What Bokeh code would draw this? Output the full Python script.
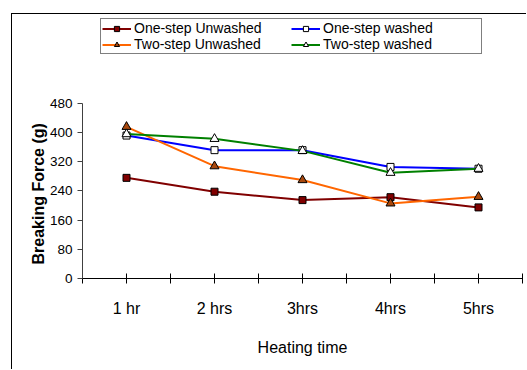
from bokeh.plotting import figure
from bokeh.models import (Legend, LegendItem, FixedTicker, PolyAnnotation, Range1d, Title)
from bokeh.embed import file_html
from bokeh.resources import INLINE

# ---- data ----
categories = ["1 hr", "2 hrs", "3hrs", "4hrs", "5hrs"]
x_pos = [1, 2, 3, 4, 5]
one_step_unwashed = [276, 238, 215, 223, 195]
one_step_washed = [392, 352, 352, 306, 301]
two_step_unwashed = [416, 308, 270, 206, 224]
two_step_washed = [396, 383, 350, 290, 301]
y_ticks = [0, 80, 160, 240, 320, 400, 480]

FONT = "Liberation Sans"

# frame extends upward above the value axis so the legend sits inside it
p = figure(width=515, height=356, output_backend="svg", toolbar_location=None,
           x_range=Range1d(0.5, 5.5), y_range=Range1d(0, 724),
           min_border_left=70, min_border_right=5, min_border_top=0, min_border_bottom=92,
           margin=(13, 0, 0, 11))
p.styles = {"border-left": "1px solid black", "border-top": "1px solid black"}
p.outline_line_color = None
p.xgrid.grid_line_color = None
p.ygrid.grid_line_color = None
p.background_fill_color = "white"
p.border_fill_color = "white"

# y axis
p.yaxis.ticker = FixedTicker(ticks=y_ticks)
p.yaxis.bounds = (0, 480)
p.yaxis.minor_tick_line_color = None
p.yaxis.major_tick_in = 0
p.yaxis.major_tick_out = 5
p.yaxis.axis_line_color = "#404040"
p.yaxis.major_tick_line_color = "#404040"
p.yaxis.major_label_text_font = FONT
p.yaxis.major_label_text_font_size = "13.5px"
p.yaxis.major_label_text_color = "black"
p.yaxis.major_label_standoff = 5

# value-axis title, starting at the bottom of the 0..480 scale
p.add_layout(Title(text="Breaking Force (g)", align="left", offset=14,
                   vertical_align="bottom", standoff=0,
                   text_font=FONT, text_font_size="16px", text_font_style="bold",
                   text_color="black"), "left")

# x axis: ticks at category boundaries and centres
bounds = [0.5 + i * 0.5 for i in range(11)]
p.xaxis.ticker = FixedTicker(ticks=bounds)
overrides = {}
for b in bounds:
    overrides[b] = ""
for xp, c in zip(x_pos, categories):
    overrides[xp] = c
p.xaxis.major_label_overrides = overrides
p.xaxis.minor_tick_line_color = None
p.xaxis.major_tick_in = 5
p.xaxis.major_tick_out = 5
p.xaxis.axis_line_color = "black"
p.xaxis.major_tick_line_color = "black"
p.xaxis.major_label_text_font = FONT
p.xaxis.major_label_text_font_size = "16px"
p.xaxis.major_label_text_color = "black"
p.xaxis.major_label_standoff = 16
p.xaxis.axis_label = "Heating time"
p.xaxis.axis_label_text_font = FONT
p.xaxis.axis_label_text_font_size = "16px"
p.xaxis.axis_label_text_font_style = "normal"
p.xaxis.axis_label_text_color = "black"
p.xaxis.axis_label_standoff = 19

# category-axis end lines below the axis
for xe in (0.5, 5.5):
    p.add_layout(PolyAnnotation(xs=[xe, xe], ys=[0, -220], fill_alpha=0,
                                line_color="black", line_width=1))

series = [
    ("One-step Unwashed", one_step_unwashed, "#800000", "square", "#800000", 7),
    ("One-step washed", one_step_washed, "#0000FF", "square", "white", 7),
    ("Two-step Unwashed", two_step_unwashed, "#FF6600", "triangle", "#A8480E", 9),
    ("Two-step washed", two_step_washed, "#008000", "triangle", "white", 9),
]
items = {}
for name, ys, lc, mk, fc, sz in series:
    r1 = p.line(x_pos, ys, line_color=lc, line_width=2)
    r2 = p.scatter(x_pos, ys, marker=mk, size=sz, fill_color=fc, line_color="black", line_width=1)
    items[name] = LegendItem(label=name, renderers=[r1, r2])

# column-major fill: first column = Unwashed series, second = washed
legend_order = ["One-step Unwashed", "Two-step Unwashed", "One-step washed", "Two-step washed"]
legend = Legend(items=[items[n] for n in legend_order], ncols=2, location=(18, 224),
                label_text_font=FONT, label_text_font_size="14px", label_text_color="black",
                glyph_width=29, glyph_height=13, label_height=13, label_standoff=3,
                label_width=157, spacing=0, padding=1, margin=0,
                border_line_color="black", border_line_width=1,
                background_fill_color="white", background_fill_alpha=1)
p.add_layout(legend, "center")

open("out.html", "w").write(file_html(p, INLINE))
